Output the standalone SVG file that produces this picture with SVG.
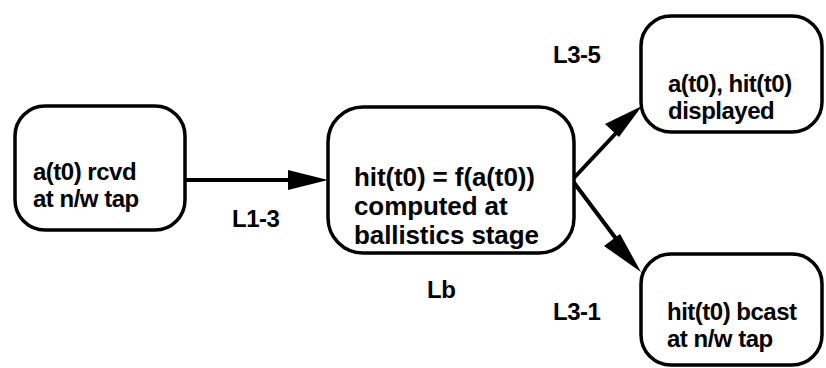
<svg xmlns="http://www.w3.org/2000/svg" width="826" height="368" viewBox="0 0 826 368">
<style>
.box{fill:#fff;stroke:#000;stroke-width:3.5}
.t{font-family:"Liberation Sans",Arial,Helvetica,sans-serif;font-weight:bold;font-size:24px;fill:#000;letter-spacing:-0.5px}
.c{font-size:26px;letter-spacing:-0.1px}
.lbl{font-family:"Liberation Sans",Arial,Helvetica,sans-serif;font-weight:bold;font-size:24px;fill:#000;letter-spacing:-0.5px}
.ln{stroke:#000;stroke-width:4;fill:none}
.ah{fill:#000}
</style>
<rect width="826" height="368" fill="#fff"/>
<g id="connectors">
<line class="ln" x1="185" y1="180" x2="292" y2="180"/>
<polygon class="ah" points="328,180 288,170 288,190"/>
<line class="ln" x1="572" y1="180" x2="618" y2="131"/>
<polygon class="ah" points="642,106 605,124 619,137"/>
<line class="ln" x1="572" y1="180" x2="617" y2="240"/>
<polygon class="ah" points="641,272 604,246 620,234"/>
<text class="lbl" x="232" y="227">L1-3</text>
<text class="lbl" x="427" y="298">Lb</text>
<text class="lbl" x="553" y="63">L3-5</text>
<text class="lbl" x="553" y="320">L3-1</text>
</g>
<g id="n1">
<rect class="box" x="15" y="106" width="170" height="124" rx="30"/>
<text class="t" x="33" y="180">a(t0) rcvd</text>
<text class="t" x="33" y="207">at n/w tap</text>
</g>
<g id="n2">
<rect class="box" x="328" y="107" width="246" height="146" rx="35"/>
<text class="t c" x="354" y="186">hit(t0) = f(a(t0))</text>
<text class="t c" x="354" y="215">computed at</text>
<text class="t c" x="354" y="244">ballistics stage</text>
</g>
<g id="n3">
<rect class="box" x="641" y="16" width="181" height="116" rx="30"/>
<text class="t" x="668" y="92">a(t0), hit(t0)</text>
<text class="t" x="668" y="119">displayed</text>
</g>
<g id="n4">
<rect class="box" x="641" y="254" width="181" height="111" rx="30"/>
<text class="t" x="667" y="320">hit(t0) bcast</text>
<text class="t" x="667" y="347">at n/w tap</text>
</g>
</svg>
